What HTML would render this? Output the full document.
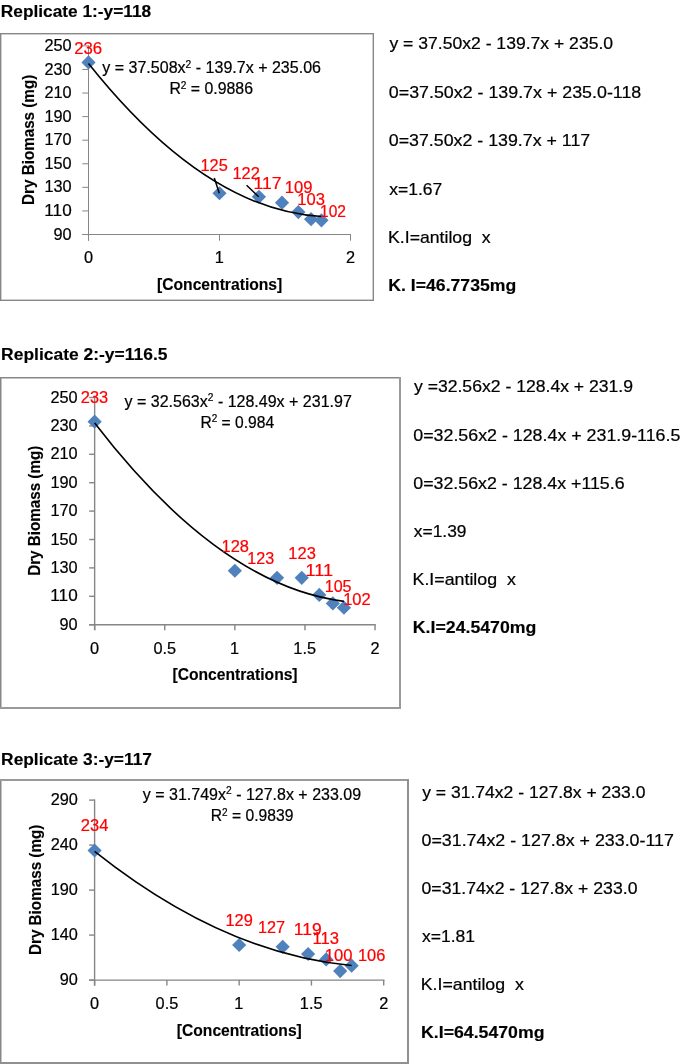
<!DOCTYPE html>
<html><head><meta charset="utf-8"><style>
html,body{margin:0;padding:0;background:#fff;width:685px;height:1064px;overflow:hidden}
svg{display:block;will-change:transform}
text{font-family:"Liberation Sans",sans-serif;white-space:pre}
</style></head><body>
<svg width="685" height="1064" viewBox="0 0 685 1064">
<rect width="685" height="1064" fill="#fff"/>
<rect x="0.00" y="33.00" width="1.40" height="268.00" fill="#878787"/>
<rect x="0.00" y="33.00" width="374.00" height="1.40" fill="#878787"/>
<rect x="372.60" y="33.00" width="1.40" height="268.00" fill="#878787"/>
<rect x="0.00" y="299.60" width="374.00" height="1.40" fill="#878787"/>
<line x1="88.50" y1="45.40" x2="88.50" y2="240.70" stroke="#868686" stroke-width="1.00"/>
<line x1="82.30" y1="234.50" x2="351.00" y2="234.50" stroke="#868686" stroke-width="1.00"/>
<line x1="82.30" y1="234.50" x2="88.50" y2="234.50" stroke="#868686" stroke-width="1.00"/>
<line x1="82.30" y1="210.93" x2="88.50" y2="210.93" stroke="#868686" stroke-width="1.00"/>
<line x1="82.30" y1="187.35" x2="88.50" y2="187.35" stroke="#868686" stroke-width="1.00"/>
<line x1="82.30" y1="163.78" x2="88.50" y2="163.78" stroke="#868686" stroke-width="1.00"/>
<line x1="82.30" y1="140.20" x2="88.50" y2="140.20" stroke="#868686" stroke-width="1.00"/>
<line x1="82.30" y1="116.62" x2="88.50" y2="116.62" stroke="#868686" stroke-width="1.00"/>
<line x1="82.30" y1="93.05" x2="88.50" y2="93.05" stroke="#868686" stroke-width="1.00"/>
<line x1="82.30" y1="69.47" x2="88.50" y2="69.47" stroke="#868686" stroke-width="1.00"/>
<line x1="82.30" y1="45.90" x2="88.50" y2="45.90" stroke="#868686" stroke-width="1.00"/>
<line x1="88.50" y1="234.50" x2="88.50" y2="240.70" stroke="#868686" stroke-width="1.00"/>
<line x1="219.50" y1="234.50" x2="219.50" y2="240.70" stroke="#868686" stroke-width="1.00"/>
<line x1="350.50" y1="234.50" x2="350.50" y2="240.70" stroke="#868686" stroke-width="1.00"/>
<path d="M88.50 55.30 L95.60 62.40 L88.50 69.50 L81.40 62.40 Z" fill="#4F81BD"/>
<path d="M219.50 186.14 L226.60 193.24 L219.50 200.34 L212.40 193.24 Z" fill="#4F81BD"/>
<path d="M258.93 189.68 L266.03 196.78 L258.93 203.88 L251.83 196.78 Z" fill="#4F81BD"/>
<path d="M282.00 195.57 L289.10 202.67 L282.00 209.77 L274.90 202.67 Z" fill="#4F81BD"/>
<path d="M298.37 205.00 L305.47 212.10 L298.37 219.20 L291.27 212.10 Z" fill="#4F81BD"/>
<path d="M311.07 212.08 L318.17 219.18 L311.07 226.28 L303.97 219.18 Z" fill="#4F81BD"/>
<path d="M321.44 213.25 L328.54 220.35 L321.44 227.45 L314.34 220.35 Z" fill="#4F81BD"/>
<path d="M88.50 63.51 Q204.97 209.92 321.44 216.53" fill="none" stroke="#000" stroke-width="1.60"/>
<line x1="214.3" y1="178" x2="219.3" y2="193.2" stroke="#000" stroke-width="1.5"/>
<line x1="246.6" y1="185.2" x2="258.7" y2="196.8" stroke="#000" stroke-width="1.5"/>
<rect x="0.00" y="377.00" width="1.50" height="332.00" fill="#878787"/>
<rect x="0.00" y="377.00" width="401.00" height="1.50" fill="#878787"/>
<rect x="399.00" y="377.00" width="2.00" height="332.00" fill="#9a9a9a"/>
<rect x="0.00" y="707.00" width="401.00" height="2.00" fill="#9a9a9a"/>
<line x1="94.65" y1="396.80" x2="94.65" y2="630.20" stroke="#868686" stroke-width="1.40"/>
<line x1="89.15" y1="624.70" x2="375.75" y2="624.70" stroke="#868686" stroke-width="1.40"/>
<line x1="89.15" y1="624.70" x2="94.65" y2="624.70" stroke="#868686" stroke-width="1.40"/>
<line x1="89.15" y1="596.30" x2="94.65" y2="596.30" stroke="#868686" stroke-width="1.40"/>
<line x1="89.15" y1="567.90" x2="94.65" y2="567.90" stroke="#868686" stroke-width="1.40"/>
<line x1="89.15" y1="539.50" x2="94.65" y2="539.50" stroke="#868686" stroke-width="1.40"/>
<line x1="89.15" y1="511.10" x2="94.65" y2="511.10" stroke="#868686" stroke-width="1.40"/>
<line x1="89.15" y1="482.70" x2="94.65" y2="482.70" stroke="#868686" stroke-width="1.40"/>
<line x1="89.15" y1="454.30" x2="94.65" y2="454.30" stroke="#868686" stroke-width="1.40"/>
<line x1="89.15" y1="425.90" x2="94.65" y2="425.90" stroke="#868686" stroke-width="1.40"/>
<line x1="89.15" y1="397.50" x2="94.65" y2="397.50" stroke="#868686" stroke-width="1.40"/>
<line x1="94.65" y1="624.70" x2="94.65" y2="630.20" stroke="#868686" stroke-width="1.40"/>
<line x1="164.75" y1="624.70" x2="164.75" y2="630.20" stroke="#868686" stroke-width="1.40"/>
<line x1="234.85" y1="624.70" x2="234.85" y2="630.20" stroke="#868686" stroke-width="1.40"/>
<line x1="304.95" y1="624.70" x2="304.95" y2="630.20" stroke="#868686" stroke-width="1.40"/>
<line x1="375.05" y1="624.70" x2="375.05" y2="630.20" stroke="#868686" stroke-width="1.40"/>
<path d="M94.65 414.54 L101.75 421.64 L94.65 428.74 L87.55 421.64 Z" fill="#4F81BD"/>
<path d="M234.85 563.64 L241.95 570.74 L234.85 577.84 L227.75 570.74 Z" fill="#4F81BD"/>
<path d="M277.05 570.74 L284.15 577.84 L277.05 584.94 L269.95 577.84 Z" fill="#4F81BD"/>
<path d="M301.74 570.74 L308.84 577.84 L301.74 584.94 L294.64 577.84 Z" fill="#4F81BD"/>
<path d="M319.26 587.78 L326.36 594.88 L319.26 601.98 L312.16 594.88 Z" fill="#4F81BD"/>
<path d="M332.85 596.30 L339.95 603.40 L332.85 610.50 L325.75 603.40 Z" fill="#4F81BD"/>
<path d="M343.95 600.56 L351.05 607.66 L343.95 614.76 L336.85 607.66 Z" fill="#4F81BD"/>
<path d="M94.65 423.10 Q219.30 585.32 343.95 601.34" fill="none" stroke="#000" stroke-width="1.60"/>
<rect x="0.00" y="779.00" width="1.50" height="285.00" fill="#878787"/>
<rect x="0.00" y="779.00" width="409.00" height="2.00" fill="#9a9a9a"/>
<rect x="407.00" y="779.00" width="2.00" height="285.00" fill="#909090"/>
<rect x="0.00" y="1062.00" width="409.00" height="2.00" fill="#909090"/>
<line x1="94.60" y1="799.40" x2="94.60" y2="985.60" stroke="#868686" stroke-width="1.40"/>
<line x1="89.10" y1="980.10" x2="384.40" y2="980.10" stroke="#868686" stroke-width="1.40"/>
<line x1="89.10" y1="980.10" x2="94.60" y2="980.10" stroke="#868686" stroke-width="1.40"/>
<line x1="89.10" y1="935.10" x2="94.60" y2="935.10" stroke="#868686" stroke-width="1.40"/>
<line x1="89.10" y1="890.10" x2="94.60" y2="890.10" stroke="#868686" stroke-width="1.40"/>
<line x1="89.10" y1="845.10" x2="94.60" y2="845.10" stroke="#868686" stroke-width="1.40"/>
<line x1="89.10" y1="800.10" x2="94.60" y2="800.10" stroke="#868686" stroke-width="1.40"/>
<line x1="94.60" y1="980.10" x2="94.60" y2="985.60" stroke="#868686" stroke-width="1.40"/>
<line x1="166.88" y1="980.10" x2="166.88" y2="985.60" stroke="#868686" stroke-width="1.40"/>
<line x1="239.15" y1="980.10" x2="239.15" y2="985.60" stroke="#868686" stroke-width="1.40"/>
<line x1="311.43" y1="980.10" x2="311.43" y2="985.60" stroke="#868686" stroke-width="1.40"/>
<line x1="383.70" y1="980.10" x2="383.70" y2="985.60" stroke="#868686" stroke-width="1.40"/>
<path d="M94.60 843.40 L101.70 850.50 L94.60 857.60 L87.50 850.50 Z" fill="#4F81BD"/>
<path d="M239.15 937.90 L246.25 945.00 L239.15 952.10 L232.05 945.00 Z" fill="#4F81BD"/>
<path d="M282.66 939.70 L289.76 946.80 L282.66 953.90 L275.56 946.80 Z" fill="#4F81BD"/>
<path d="M308.12 946.90 L315.22 954.00 L308.12 961.10 L301.02 954.00 Z" fill="#4F81BD"/>
<path d="M326.18 952.30 L333.28 959.40 L326.18 966.50 L319.08 959.40 Z" fill="#4F81BD"/>
<path d="M340.19 964.00 L347.29 971.10 L340.19 978.20 L333.09 971.10 Z" fill="#4F81BD"/>
<path d="M351.63 958.60 L358.73 965.70 L351.63 972.80 L344.53 965.70 Z" fill="#4F81BD"/>
<path d="M94.60 851.32 Q223.12 953.58 351.63 965.50" fill="none" stroke="#000" stroke-width="1.60"/>
<text x="0.84" y="17.00" font-size="17.20" fill="#000" style="font-weight:bold;stroke:#000;stroke-width:0.15;" textLength="150.39" lengthAdjust="spacingAndGlyphs">Replicate 1:-y=118</text>
<text x="1.13" y="359.60" font-size="17.20" fill="#000" style="font-weight:bold;stroke:#000;stroke-width:0.15;" textLength="166.35" lengthAdjust="spacingAndGlyphs">Replicate 2:-y=116.5</text>
<text x="1.14" y="764.90" font-size="17.20" fill="#000" style="font-weight:bold;stroke:#000;stroke-width:0.15;" textLength="150.82" lengthAdjust="spacingAndGlyphs">Replicate 3:-y=117</text>
<text x="53.51" y="239.59" font-size="16.30" fill="#000" style="stroke:#000;stroke-width:0.22;" textLength="18.13" lengthAdjust="spacingAndGlyphs">90</text>
<text x="44.38" y="216.01" font-size="16.30" fill="#000" style="stroke:#000;stroke-width:0.22;" textLength="27.29" lengthAdjust="spacingAndGlyphs">110</text>
<text x="44.44" y="192.44" font-size="16.30" fill="#000" style="stroke:#000;stroke-width:0.22;" textLength="27.20" lengthAdjust="spacingAndGlyphs">130</text>
<text x="44.44" y="168.86" font-size="16.30" fill="#000" style="stroke:#000;stroke-width:0.22;" textLength="27.20" lengthAdjust="spacingAndGlyphs">150</text>
<text x="44.44" y="145.29" font-size="16.30" fill="#000" style="stroke:#000;stroke-width:0.22;" textLength="27.20" lengthAdjust="spacingAndGlyphs">170</text>
<text x="44.44" y="121.71" font-size="16.30" fill="#000" style="stroke:#000;stroke-width:0.22;" textLength="27.20" lengthAdjust="spacingAndGlyphs">190</text>
<text x="44.44" y="98.14" font-size="16.30" fill="#000" style="stroke:#000;stroke-width:0.22;" textLength="27.20" lengthAdjust="spacingAndGlyphs">210</text>
<text x="44.44" y="74.56" font-size="16.30" fill="#000" style="stroke:#000;stroke-width:0.22;" textLength="27.20" lengthAdjust="spacingAndGlyphs">230</text>
<text x="44.44" y="50.99" font-size="16.30" fill="#000" style="stroke:#000;stroke-width:0.22;" textLength="27.20" lengthAdjust="spacingAndGlyphs">250</text>
<text x="83.97" y="262.50" font-size="16.30" fill="#000" style="stroke:#000;stroke-width:0.22;" textLength="9.07" lengthAdjust="spacingAndGlyphs">0</text>
<text x="214.74" y="262.50" font-size="16.30" fill="#000" style="stroke:#000;stroke-width:0.22;" textLength="9.07" lengthAdjust="spacingAndGlyphs">1</text>
<text x="345.97" y="262.50" font-size="16.30" fill="#000" style="stroke:#000;stroke-width:0.22;" textLength="9.07" lengthAdjust="spacingAndGlyphs">2</text>
<text x="74.16" y="53.70" font-size="16.80" fill="#FF0000" style="stroke:#FF0000;stroke-width:0.22;" textLength="27.98" lengthAdjust="spacingAndGlyphs">236</text>
<text x="200.56" y="170.60" font-size="16.80" fill="#FF0000" style="stroke:#FF0000;stroke-width:0.22;" textLength="27.23" lengthAdjust="spacingAndGlyphs">125</text>
<text x="232.45" y="179.00" font-size="16.80" fill="#FF0000" style="stroke:#FF0000;stroke-width:0.22;" textLength="27.38" lengthAdjust="spacingAndGlyphs">122</text>
<text x="253.56" y="189.00" font-size="16.80" fill="#FF0000" style="stroke:#FF0000;stroke-width:0.22;" textLength="28.02" lengthAdjust="spacingAndGlyphs">117</text>
<text x="284.63" y="193.00" font-size="16.80" fill="#FF0000" style="stroke:#FF0000;stroke-width:0.22;" textLength="27.76" lengthAdjust="spacingAndGlyphs">109</text>
<text x="297.23" y="205.10" font-size="16.80" fill="#FF0000" style="stroke:#FF0000;stroke-width:0.22;" textLength="27.70" lengthAdjust="spacingAndGlyphs">103</text>
<text x="320.01" y="216.90" font-size="16.80" fill="#FF0000" style="stroke:#FF0000;stroke-width:0.22;" textLength="25.97" lengthAdjust="spacingAndGlyphs">102</text>
<text x="102.26" y="72.90" font-size="16.60" fill="#000" style="stroke:#000;stroke-width:0.22;" textLength="218.74" lengthAdjust="spacingAndGlyphs">y = 37.508x<tspan font-size="10.62" dy="-5.30">2</tspan><tspan dy="5.30"> - 139.7x + 235.06</tspan></text>
<text x="169.40" y="93.80" font-size="16.60" fill="#000" style="stroke:#000;stroke-width:0.22;" textLength="83.60" lengthAdjust="spacingAndGlyphs">R<tspan font-size="10.62" dy="-5.30">2</tspan><tspan dy="5.30"> = 0.9886</tspan></text>
<text transform="translate(34.10 203.90) rotate(-90)" x="-1.02" y="0" font-size="17.20" fill="#000" style="font-weight:bold;stroke:#000;stroke-width:0.15;" textLength="130.18" lengthAdjust="spacingAndGlyphs">Dry Biomass (mg)</text>
<text x="157.02" y="290.30" font-size="17.20" fill="#000" style="font-weight:bold;stroke:#000;stroke-width:0.15;" textLength="125.26" lengthAdjust="spacingAndGlyphs">[Concentrations]</text>
<text x="59.51" y="629.79" font-size="16.30" fill="#000" style="stroke:#000;stroke-width:0.22;" textLength="18.13" lengthAdjust="spacingAndGlyphs">90</text>
<text x="50.38" y="601.39" font-size="16.30" fill="#000" style="stroke:#000;stroke-width:0.22;" textLength="27.29" lengthAdjust="spacingAndGlyphs">110</text>
<text x="50.44" y="572.99" font-size="16.30" fill="#000" style="stroke:#000;stroke-width:0.22;" textLength="27.20" lengthAdjust="spacingAndGlyphs">130</text>
<text x="50.44" y="544.59" font-size="16.30" fill="#000" style="stroke:#000;stroke-width:0.22;" textLength="27.20" lengthAdjust="spacingAndGlyphs">150</text>
<text x="50.44" y="516.19" font-size="16.30" fill="#000" style="stroke:#000;stroke-width:0.22;" textLength="27.20" lengthAdjust="spacingAndGlyphs">170</text>
<text x="50.44" y="487.79" font-size="16.30" fill="#000" style="stroke:#000;stroke-width:0.22;" textLength="27.20" lengthAdjust="spacingAndGlyphs">190</text>
<text x="50.44" y="459.39" font-size="16.30" fill="#000" style="stroke:#000;stroke-width:0.22;" textLength="27.20" lengthAdjust="spacingAndGlyphs">210</text>
<text x="50.44" y="430.99" font-size="16.30" fill="#000" style="stroke:#000;stroke-width:0.22;" textLength="27.20" lengthAdjust="spacingAndGlyphs">230</text>
<text x="50.44" y="402.59" font-size="16.30" fill="#000" style="stroke:#000;stroke-width:0.22;" textLength="27.20" lengthAdjust="spacingAndGlyphs">250</text>
<text x="90.12" y="654.00" font-size="16.30" fill="#000" style="stroke:#000;stroke-width:0.22;" textLength="9.07" lengthAdjust="spacingAndGlyphs">0</text>
<text x="153.44" y="654.00" font-size="16.30" fill="#000" style="stroke:#000;stroke-width:0.22;" textLength="22.66" lengthAdjust="spacingAndGlyphs">0.5</text>
<text x="230.09" y="654.00" font-size="16.30" fill="#000" style="stroke:#000;stroke-width:0.22;" textLength="9.07" lengthAdjust="spacingAndGlyphs">1</text>
<text x="293.34" y="654.00" font-size="16.30" fill="#000" style="stroke:#000;stroke-width:0.22;" textLength="22.66" lengthAdjust="spacingAndGlyphs">1.5</text>
<text x="370.52" y="654.00" font-size="16.30" fill="#000" style="stroke:#000;stroke-width:0.22;" textLength="9.07" lengthAdjust="spacingAndGlyphs">2</text>
<text x="80.87" y="402.80" font-size="16.80" fill="#FF0000" style="stroke:#FF0000;stroke-width:0.22;" textLength="27.35" lengthAdjust="spacingAndGlyphs">233</text>
<text x="221.55" y="551.50" font-size="16.80" fill="#FF0000" style="stroke:#FF0000;stroke-width:0.22;" textLength="27.36" lengthAdjust="spacingAndGlyphs">128</text>
<text x="247.37" y="563.90" font-size="16.80" fill="#FF0000" style="stroke:#FF0000;stroke-width:0.22;" textLength="26.94" lengthAdjust="spacingAndGlyphs">123</text>
<text x="288.34" y="558.80" font-size="16.80" fill="#FF0000" style="stroke:#FF0000;stroke-width:0.22;" textLength="27.48" lengthAdjust="spacingAndGlyphs">123</text>
<text x="305.62" y="575.90" font-size="16.80" fill="#FF0000" style="stroke:#FF0000;stroke-width:0.22;" textLength="27.57" lengthAdjust="spacingAndGlyphs">111</text>
<text x="324.67" y="591.50" font-size="16.80" fill="#FF0000" style="stroke:#FF0000;stroke-width:0.22;" textLength="26.91" lengthAdjust="spacingAndGlyphs">105</text>
<text x="343.14" y="604.90" font-size="16.80" fill="#FF0000" style="stroke:#FF0000;stroke-width:0.22;" textLength="27.59" lengthAdjust="spacingAndGlyphs">102</text>
<text x="124.56" y="406.60" font-size="16.60" fill="#000" style="stroke:#000;stroke-width:0.22;" textLength="227.24" lengthAdjust="spacingAndGlyphs">y = 32.563x<tspan font-size="10.62" dy="-5.30">2</tspan><tspan dy="5.30"> - 128.49x + 231.97</tspan></text>
<text x="200.42" y="427.70" font-size="16.60" fill="#000" style="stroke:#000;stroke-width:0.22;" textLength="73.64" lengthAdjust="spacingAndGlyphs">R<tspan font-size="10.62" dy="-5.30">2</tspan><tspan dy="5.30"> = 0.984</tspan></text>
<text transform="translate(40.10 574.80) rotate(-90)" x="-1.02" y="0" font-size="17.20" fill="#000" style="font-weight:bold;stroke:#000;stroke-width:0.15;" textLength="130.07" lengthAdjust="spacingAndGlyphs">Dry Biomass (mg)</text>
<text x="172.52" y="680.20" font-size="17.20" fill="#000" style="font-weight:bold;stroke:#000;stroke-width:0.15;" textLength="125.06" lengthAdjust="spacingAndGlyphs">[Concentrations]</text>
<text x="59.81" y="985.19" font-size="16.30" fill="#000" style="stroke:#000;stroke-width:0.22;" textLength="18.13" lengthAdjust="spacingAndGlyphs">90</text>
<text x="50.74" y="940.19" font-size="16.30" fill="#000" style="stroke:#000;stroke-width:0.22;" textLength="27.20" lengthAdjust="spacingAndGlyphs">140</text>
<text x="50.74" y="895.19" font-size="16.30" fill="#000" style="stroke:#000;stroke-width:0.22;" textLength="27.20" lengthAdjust="spacingAndGlyphs">190</text>
<text x="50.74" y="850.19" font-size="16.30" fill="#000" style="stroke:#000;stroke-width:0.22;" textLength="27.20" lengthAdjust="spacingAndGlyphs">240</text>
<text x="50.74" y="805.19" font-size="16.30" fill="#000" style="stroke:#000;stroke-width:0.22;" textLength="27.20" lengthAdjust="spacingAndGlyphs">290</text>
<text x="90.07" y="1008.60" font-size="16.30" fill="#000" style="stroke:#000;stroke-width:0.22;" textLength="9.07" lengthAdjust="spacingAndGlyphs">0</text>
<text x="155.57" y="1008.60" font-size="16.30" fill="#000" style="stroke:#000;stroke-width:0.22;" textLength="22.66" lengthAdjust="spacingAndGlyphs">0.5</text>
<text x="234.39" y="1008.60" font-size="16.30" fill="#000" style="stroke:#000;stroke-width:0.22;" textLength="9.07" lengthAdjust="spacingAndGlyphs">1</text>
<text x="299.82" y="1008.60" font-size="16.30" fill="#000" style="stroke:#000;stroke-width:0.22;" textLength="22.66" lengthAdjust="spacingAndGlyphs">1.5</text>
<text x="379.17" y="1008.60" font-size="16.30" fill="#000" style="stroke:#000;stroke-width:0.22;" textLength="9.07" lengthAdjust="spacingAndGlyphs">2</text>
<text x="80.87" y="831.10" font-size="16.80" fill="#FF0000" style="stroke:#FF0000;stroke-width:0.22;" textLength="27.62" lengthAdjust="spacingAndGlyphs">234</text>
<text x="225.45" y="926.10" font-size="16.80" fill="#FF0000" style="stroke:#FF0000;stroke-width:0.22;" textLength="27.33" lengthAdjust="spacingAndGlyphs">129</text>
<text x="257.96" y="933.00" font-size="16.80" fill="#FF0000" style="stroke:#FF0000;stroke-width:0.22;" textLength="27.16" lengthAdjust="spacingAndGlyphs">127</text>
<text x="293.87" y="935.00" font-size="16.80" fill="#FF0000" style="stroke:#FF0000;stroke-width:0.22;" textLength="27.86" lengthAdjust="spacingAndGlyphs">119</text>
<text x="312.53" y="943.60" font-size="16.80" fill="#FF0000" style="stroke:#FF0000;stroke-width:0.22;" textLength="26.50" lengthAdjust="spacingAndGlyphs">113</text>
<text x="324.73" y="960.90" font-size="16.80" fill="#FF0000" style="stroke:#FF0000;stroke-width:0.22;" textLength="27.72" lengthAdjust="spacingAndGlyphs">100</text>
<text x="357.95" y="960.90" font-size="16.80" fill="#FF0000" style="stroke:#FF0000;stroke-width:0.22;" textLength="27.37" lengthAdjust="spacingAndGlyphs">106</text>
<text x="142.86" y="799.70" font-size="16.60" fill="#000" style="stroke:#000;stroke-width:0.22;" textLength="218.20" lengthAdjust="spacingAndGlyphs">y = 31.749x<tspan font-size="10.62" dy="-5.30">2</tspan><tspan dy="5.30"> - 127.8x + 233.09</tspan></text>
<text x="210.72" y="820.80" font-size="16.60" fill="#000" style="stroke:#000;stroke-width:0.22;" textLength="82.63" lengthAdjust="spacingAndGlyphs">R<tspan font-size="10.62" dy="-5.30">2</tspan><tspan dy="5.30"> = 0.9839</tspan></text>
<text transform="translate(40.50 954.00) rotate(-90)" x="-1.02" y="0" font-size="17.20" fill="#000" style="font-weight:bold;stroke:#000;stroke-width:0.15;" textLength="130.38" lengthAdjust="spacingAndGlyphs">Dry Biomass (mg)</text>
<text x="176.82" y="1035.70" font-size="17.20" fill="#000" style="font-weight:bold;stroke:#000;stroke-width:0.15;" textLength="124.96" lengthAdjust="spacingAndGlyphs">[Concentrations]</text>
<text x="389.46" y="48.90" font-size="17.00" fill="#000" style="stroke:#000;stroke-width:0.22;" textLength="223.63" lengthAdjust="spacingAndGlyphs">y = 37.50x2 - 139.7x + 235.0</text>
<text x="388.80" y="97.80" font-size="17.00" fill="#000" style="stroke:#000;stroke-width:0.22;" textLength="252.47" lengthAdjust="spacingAndGlyphs">0=37.50x2 - 139.7x + 235.0-118</text>
<text x="388.81" y="146.00" font-size="17.00" fill="#000" style="stroke:#000;stroke-width:0.22;" textLength="201.39" lengthAdjust="spacingAndGlyphs">0=37.50x2 - 139.7x + 117</text>
<text x="389.30" y="194.70" font-size="17.00" fill="#000" style="stroke:#000;stroke-width:0.22;" textLength="52.98" lengthAdjust="spacingAndGlyphs">x=1.67</text>
<text x="388.05" y="242.70" font-size="17.00" fill="#000" style="stroke:#000;stroke-width:0.22;" textLength="102.54" lengthAdjust="spacingAndGlyphs">K.I=antilog  x</text>
<text x="388.32" y="290.60" font-size="17.00" fill="#000" style="font-weight:bold;stroke:#000;stroke-width:0.15;" textLength="127.86" lengthAdjust="spacingAndGlyphs">K. I=46.7735mg</text>
<text x="413.96" y="391.70" font-size="17.00" fill="#000" style="stroke:#000;stroke-width:0.22;" textLength="219.08" lengthAdjust="spacingAndGlyphs">y =32.56x2 - 128.4x + 231.9</text>
<text x="413.30" y="441.20" font-size="17.00" fill="#000" style="stroke:#000;stroke-width:0.22;" textLength="267.04" lengthAdjust="spacingAndGlyphs">0=32.56x2 - 128.4x + 231.9-116.5</text>
<text x="413.31" y="488.80" font-size="17.00" fill="#000" style="stroke:#000;stroke-width:0.22;" textLength="211.28" lengthAdjust="spacingAndGlyphs">0=32.56x2 - 128.4x +115.6</text>
<text x="413.80" y="536.80" font-size="17.00" fill="#000" style="stroke:#000;stroke-width:0.22;" textLength="52.72" lengthAdjust="spacingAndGlyphs">x=1.39</text>
<text x="412.54" y="585.30" font-size="17.00" fill="#000" style="stroke:#000;stroke-width:0.22;" textLength="103.35" lengthAdjust="spacingAndGlyphs">K.I=antilog  x</text>
<text x="412.82" y="633.40" font-size="17.00" fill="#000" style="font-weight:bold;stroke:#000;stroke-width:0.15;" textLength="123.57" lengthAdjust="spacingAndGlyphs">K.I=24.5470mg</text>
<text x="422.16" y="797.70" font-size="17.00" fill="#000" style="stroke:#000;stroke-width:0.22;" textLength="223.33" lengthAdjust="spacingAndGlyphs">y = 31.74x2 - 127.8x + 233.0</text>
<text x="421.50" y="846.40" font-size="17.00" fill="#000" style="stroke:#000;stroke-width:0.22;" textLength="252.39" lengthAdjust="spacingAndGlyphs">0=31.74x2 - 127.8x + 233.0-117</text>
<text x="421.51" y="893.80" font-size="17.00" fill="#000" style="stroke:#000;stroke-width:0.22;" textLength="215.98" lengthAdjust="spacingAndGlyphs">0=31.74x2 - 127.8x + 233.0</text>
<text x="422.00" y="941.80" font-size="17.00" fill="#000" style="stroke:#000;stroke-width:0.22;" textLength="53.05" lengthAdjust="spacingAndGlyphs">x=1.81</text>
<text x="420.75" y="990.40" font-size="17.00" fill="#000" style="stroke:#000;stroke-width:0.22;" textLength="103.05" lengthAdjust="spacingAndGlyphs">K.I=antilog  x</text>
<text x="421.02" y="1037.90" font-size="17.00" fill="#000" style="font-weight:bold;stroke:#000;stroke-width:0.15;" textLength="123.47" lengthAdjust="spacingAndGlyphs">K.I=64.5470mg</text>
</svg>
</body></html>
